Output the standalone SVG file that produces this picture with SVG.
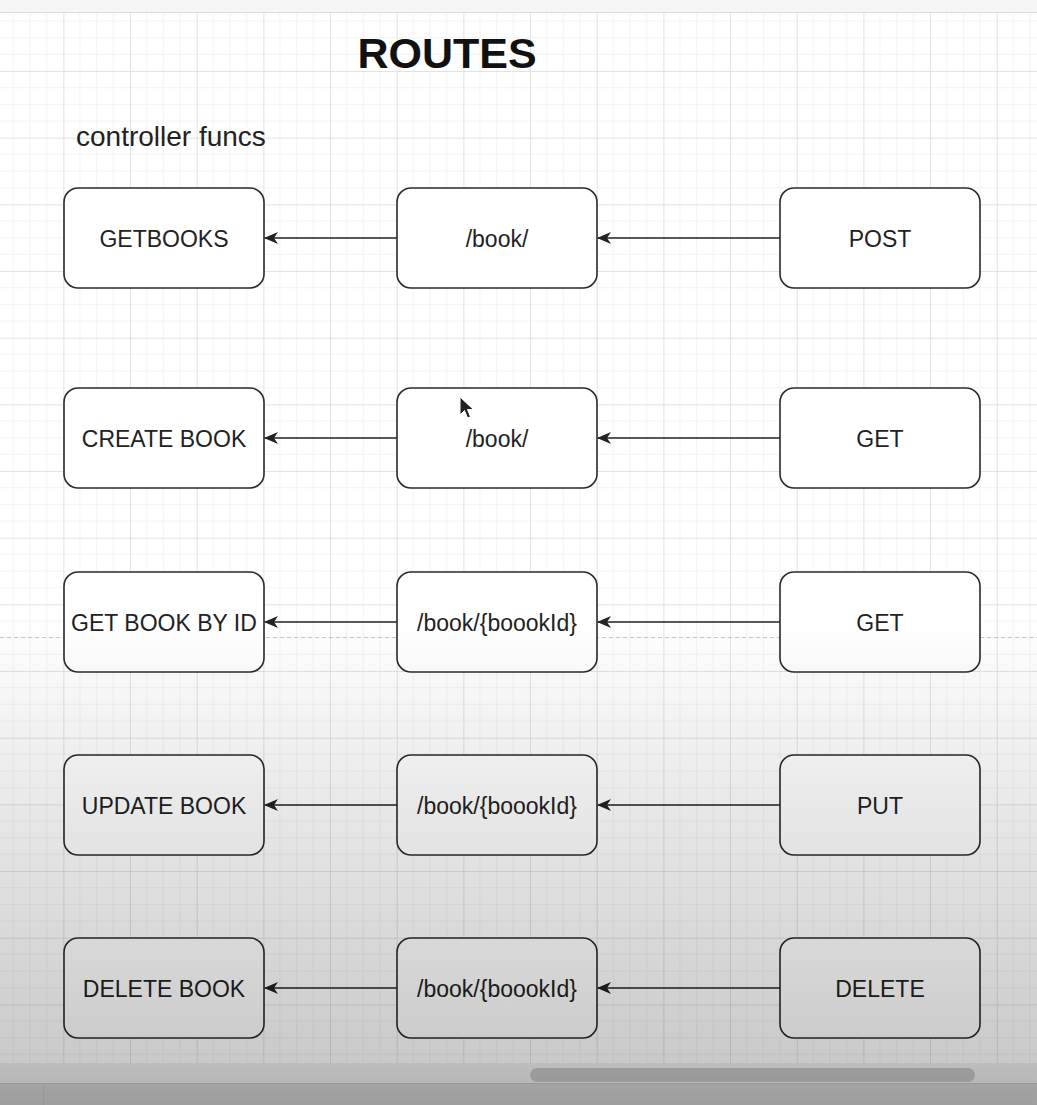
<svg xmlns="http://www.w3.org/2000/svg" width="1037" height="1105" viewBox="0 0 1037 1105">
<style>
.node rect{fill:#fff;stroke:#2a2a2a;stroke-width:1.6}
.node text{font-family:"Liberation Sans",Arial,sans-serif;font-size:23px;fill:#222;text-anchor:middle;dominant-baseline:central}
.conn line{stroke:#222;stroke-width:1.6}
</style>
<defs>
<pattern id="grid" patternUnits="userSpaceOnUse" x="-3.33" y="4.33" width="66.67" height="66.67">
<path d="M16.67 0V66.67M33.33 0V66.67M50 0V66.67M0 16.67H66.67M0 33.33H66.67M0 50H66.67" stroke="#f3f3f3" stroke-width="1" fill="none"/>
<path d="M0.5 0V66.67M0 0.5H66.67" stroke="#e2e2e2" stroke-width="1" fill="none"/>
</pattern>
<marker id="arr" markerUnits="userSpaceOnUse" viewBox="0 0 14 12" refX="13" refY="6" markerWidth="14" markerHeight="12" orient="auto">
<path d="M0,0 L14,6 L0,12 L4,6 Z" fill="#222"/>
</marker>
<linearGradient id="shade" x1="0" y1="0" x2="0" y2="1105" gradientUnits="userSpaceOnUse">
<stop offset="0" stop-color="#000" stop-opacity="0"/>
<stop offset="0.56" stop-color="#000" stop-opacity="0"/>
<stop offset="0.96" stop-color="#000" stop-opacity="0.21"/>
<stop offset="1" stop-color="#000" stop-opacity="0.26"/>
</linearGradient>
</defs>
<rect width="1037" height="1105" fill="#fff"/>
<rect x="0" y="0" width="1037" height="12" fill="#f6f6f6"/>
<rect x="0" y="12" width="1037" height="1051" fill="url(#grid)"/>
<line x1="0" y1="12.5" x2="1037" y2="12.5" stroke="#dcdcdc"/>
<line x1="0" y1="637.5" x2="1037" y2="637.5" stroke="#c8c8c8" stroke-width="1.2" stroke-dasharray="4 3"/>

<text x="447" y="68" font-family="Liberation Sans,Arial,sans-serif" font-size="43" font-weight="bold" fill="#111" text-anchor="middle">ROUTES</text>
<text x="76" y="146" font-family="Liberation Sans,Arial,sans-serif" font-size="28" fill="#222">controller funcs</text>

<g id="connectors" class="conn">
<line x1="780" y1="238" x2="598" y2="238" marker-end="url(#arr)"/>
<line x1="397" y1="238" x2="265" y2="238" marker-end="url(#arr)"/>
<line x1="780" y1="438" x2="598" y2="438" marker-end="url(#arr)"/>
<line x1="397" y1="438" x2="265" y2="438" marker-end="url(#arr)"/>
<line x1="780" y1="622" x2="598" y2="622" marker-end="url(#arr)"/>
<line x1="397" y1="622" x2="265" y2="622" marker-end="url(#arr)"/>
<line x1="780" y1="805" x2="598" y2="805" marker-end="url(#arr)"/>
<line x1="397" y1="805" x2="265" y2="805" marker-end="url(#arr)"/>
<line x1="780" y1="988" x2="598" y2="988" marker-end="url(#arr)"/>
<line x1="397" y1="988" x2="265" y2="988" marker-end="url(#arr)"/>
</g>

<g id="n-getbooks" class="node"><rect x="64" y="188" width="200" height="100" rx="14"/><text x="164" y="239">GETBOOKS</text></g>
<g id="n-route1" class="node"><rect x="397" y="188" width="200" height="100" rx="14"/><text x="497" y="239">/book/</text></g>
<g id="n-post" class="node"><rect x="780" y="188" width="200" height="100" rx="14"/><text x="880" y="239">POST</text></g>

<g id="n-createbook" class="node"><rect x="64" y="388" width="200" height="100" rx="14"/><text x="164" y="439">CREATE BOOK</text></g>
<g id="n-route2" class="node"><rect x="397" y="388" width="200" height="100" rx="14"/><text x="497" y="439">/book/</text></g>
<g id="n-get1" class="node"><rect x="780" y="388" width="200" height="100" rx="14"/><text x="880" y="439">GET</text></g>

<g id="n-getbookbyid" class="node"><rect x="64" y="572" width="200" height="100" rx="14"/><text x="164" y="623">GET BOOK BY ID</text></g>
<g id="n-route3" class="node"><rect x="397" y="572" width="200" height="100" rx="14"/><text x="497" y="623">/book/{boookId}</text></g>
<g id="n-get2" class="node"><rect x="780" y="572" width="200" height="100" rx="14"/><text x="880" y="623">GET</text></g>

<g id="n-updatebook" class="node"><rect x="64" y="755" width="200" height="100" rx="14"/><text x="164" y="806">UPDATE BOOK</text></g>
<g id="n-route4" class="node"><rect x="397" y="755" width="200" height="100" rx="14"/><text x="497" y="806">/book/{boookId}</text></g>
<g id="n-put" class="node"><rect x="780" y="755" width="200" height="100" rx="14"/><text x="880" y="806">PUT</text></g>

<g id="n-deletebook" class="node"><rect x="64" y="938" width="200" height="100" rx="14"/><text x="164" y="989">DELETE BOOK</text></g>
<g id="n-route5" class="node"><rect x="397" y="938" width="200" height="100" rx="14"/><text x="497" y="989">/book/{boookId}</text></g>
<g id="n-delete" class="node"><rect x="780" y="938" width="200" height="100" rx="14"/><text x="880" y="989">DELETE</text></g>

<path d="M460,397 L460,415 L464.5,410.5 L467.5,418 L470.5,416.8 L467.5,409.5 L473.5,409.5 Z" fill="#222" stroke="#fff" stroke-width="1"/>

<rect x="0" y="1063" width="1037" height="20" fill="#f0f0f0"/>
<rect x="530" y="1068" width="445" height="14" rx="7" fill="#c8c8c8"/>
<rect x="0" y="1083" width="1037" height="22" fill="#d6d6d6"/>
<line x1="0" y1="1083.5" x2="1037" y2="1083.5" stroke="#c4c4c4"/>
<line x1="43.5" y1="1084" x2="43.5" y2="1105" stroke="#c8c8c8"/>

<rect width="1037" height="1105" fill="url(#shade)"/>
</svg>
